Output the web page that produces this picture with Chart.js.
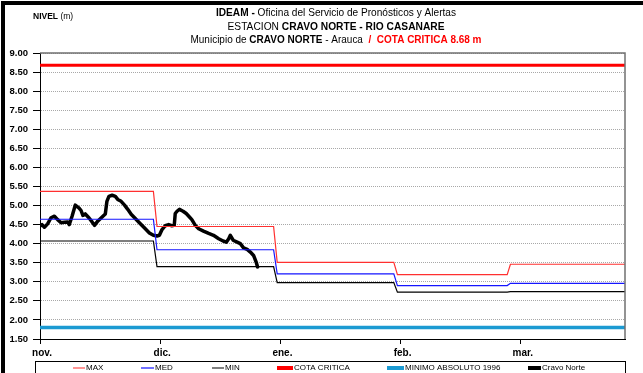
<!DOCTYPE html>
<html>
<head>
<meta charset="utf-8">
<title>Nivel Cravo Norte</title>
<script src="https://cdn.jsdelivr.net/npm/chart.js@4/dist/chart.umd.min.js"></script>
<style>
  html, body { margin: 0; padding: 0; background: #fff; }
  canvas { display: block; }
</style>
</head>
<body>
<canvas id="nivelChart" width="643" height="373"></canvas>
<script>
// Month ticks on a day axis (day 0 = start of nov.)
const monthTicks = [0, 30, 60, 90, 120];
const monthLabels = ['nov.', 'dic.', 'ene.', 'feb.', 'mar.'];

// Monthly reference levels (step lines)
const stepDays = [0, 28.3, 29.2, 58.3, 59.2, 88.3, 89.2, 116.6, 117.4, 146];
const maxLevels = [5.37, 5.37, 4.45, 4.45, 3.51, 3.51, 3.19, 3.19, 3.46, 3.46];
const medLevels = [4.64, 4.64, 3.84, 3.84, 3.21, 3.21, 2.90, 2.90, 2.96, 2.96];
const minLevels = [4.07, 4.07, 3.40, 3.40, 2.98, 2.98, 2.73, 2.73, 2.74, 2.74];

const cotaCritica = 8.68;
const minimoAbsoluto = 1.80;

// Observed levels, Cravo Norte
const cravoDays = [0, 0.5, 1.1, 1.9, 2.75, 3.6, 4.4, 5.25, 6.1, 6.9, 7.3, 8, 8.8, 9.7, 10.25, 10.7, 11.3, 12.2, 13,
  13.6, 14.4, 15.7, 16.3, 16.7, 17.2, 18, 18.8, 19.4, 20.25, 21.1, 21.9, 22.75, 23.6, 24.8, 26.1, 27.3, 28.3,
  29.2, 29.8, 30.4, 31.25, 32.1, 32.9, 33.5, 33.75, 34.2, 34.8, 35.7, 36.5, 37.3, 37.9, 38.75, 39.6, 40.8,
  42.1, 43.3, 44.6, 45.7, 46.5, 47.1, 47.5, 48.2, 49.2, 50, 50.8, 51.7, 52.5, 53.3, 54, 54.3];
const cravoLevels = [4.46, 4.50, 4.43, 4.52, 4.68, 4.72, 4.63, 4.55, 4.56, 4.57, 4.50, 4.72, 5.01, 4.94, 4.87, 4.74, 4.78, 4.68, 4.57,
  4.48, 4.59, 4.72, 4.78, 5.11, 5.24, 5.27, 5.24, 5.16, 5.11, 5.01, 4.90, 4.77, 4.68, 4.55, 4.41, 4.28, 4.22,
  4.20, 4.22, 4.36, 4.47, 4.50, 4.47, 4.48, 4.79, 4.85, 4.90, 4.85, 4.79, 4.70, 4.63, 4.48, 4.39, 4.33,
  4.27, 4.22, 4.13, 4.07, 4.04, 4.13, 4.22, 4.09, 4.04, 4.00, 3.89, 3.85, 3.78, 3.69, 3.50, 3.39];

const toPoints = (xs, ys) => xs.map((x, i) => ({ x, y: ys[i] }));
const flatLine = (v) => [{ x: 0, y: v }, { x: 146, y: v }];

const legendItems = [
  { text: 'MAX', color: '#ff7070', width: 1.5, x: 73, len: 12 },
  { text: 'MED', color: '#4040ff', width: 1.5, x: 141, len: 13 },
  { text: 'MIN', color: '#555555', width: 1.5, x: 212, len: 12 },
  { text: 'COTA CRITICA', color: '#ff0000', width: 4, x: 277, len: 16 },
  { text: 'MINIMO ABSOLUTO 1996', color: '#1b9ad2', width: 4, x: 387, len: 17 },
  { text: 'Cravo Norte', color: '#000000', width: 4, x: 528, len: 13 }
];

const headerLines = [
  { y: 13, width: 240, runs: [['IDEAM - ', true, '#000'], ['Oficina del Servicio de Pronósticos y Alertas', false, '#000']] },
  { y: 27, width: 217, runs: [['ESTACION ', false, '#000'], ['CRAVO NORTE - RIO CASANARE', true, '#000']] },
  { y: 40, width: 291, runs: [['Municipio de ', false, '#000'], ['CRAVO NORTE', true, '#000'], [' - Arauca  ', false, '#000'],
    ['/  COTA CRITICA 8.68 m', true, '#ff0000']] }
];

const FONT = '"Liberation Sans", Arial, sans-serif';

// frame, header text, plot border and legend box
const decorPlugin = {
  id: 'decor',
  beforeDraw(chart) {
    const ctx = chart.ctx;
    ctx.save();
    ctx.fillStyle = '#fff';
    ctx.fillRect(0, 0, chart.width, chart.height);
    ctx.fillStyle = '#000';
    ctx.fillRect(1, 1, chart.width, 4);
    ctx.fillRect(1, 1, 4, chart.height);

    ctx.textBaseline = 'middle';
    // axis unit
    ctx.font = 'bold 8.5px ' + FONT;
    ctx.textAlign = 'left';
    ctx.fillText('NIVEL', 33, 17);
    const nw = ctx.measureText('NIVEL ').width;
    ctx.font = '8.5px ' + FONT;
    ctx.fillText('(m)', 33 + nw, 17);

    headerLines.forEach(line => {
      let total = 0;
      line.runs.forEach(r => {
        ctx.font = (r[1] ? 'bold ' : '') + '10.5px ' + FONT;
        total += ctx.measureText(r[0]).width;
      });
      const s = line.width / total;
      ctx.save();
      ctx.translate(336, line.y);
      ctx.scale(s, 1);
      let x = -total / 2;
      line.runs.forEach(r => {
        ctx.font = (r[1] ? 'bold ' : '') + '10.5px ' + FONT;
        ctx.fillStyle = r[2];
        ctx.fillText(r[0], x, 0);
        x += ctx.measureText(r[0]).width;
      });
      ctx.restore();
    });
    ctx.restore();
  },
  afterDraw(chart) {
    const ctx = chart.ctx;
    const a = chart.chartArea;
    ctx.save();
    ctx.strokeStyle = '#707070';
    ctx.lineWidth = 1.5;
    ctx.beginPath();
    ctx.moveTo(a.left, a.top);
    ctx.lineTo(a.right, a.top);
    ctx.lineTo(a.right, a.bottom);
    ctx.stroke();

    // legend
    ctx.strokeStyle = '#000';
    ctx.lineWidth = 1;
    ctx.strokeRect(35.5, 361.5, 590, 20);
    ctx.font = '8px ' + FONT;
    ctx.textBaseline = 'middle';
    ctx.textAlign = 'left';
    legendItems.forEach(it => {
      ctx.strokeStyle = it.color;
      ctx.lineWidth = it.width;
      ctx.beginPath();
      ctx.moveTo(it.x, 368);
      ctx.lineTo(it.x + it.len, 368);
      ctx.stroke();
      ctx.fillStyle = '#000';
      ctx.fillText(it.text, it.x + it.len + 1, 368);
    });
    ctx.restore();
  }
};

new Chart(document.getElementById('nivelChart'), {
  type: 'line',
  data: {
    datasets: [
      { label: 'COTA CRITICA', data: flatLine(cotaCritica), borderColor: '#ff0000', borderWidth: 3 },
      { label: 'MINIMO ABSOLUTO 1996', data: flatLine(minimoAbsoluto), borderColor: '#1b9ad2', borderWidth: 3.5 },
      { label: 'MAX', data: toPoints(stepDays, maxLevels), borderColor: '#ff3030', borderWidth: 1.2 },
      { label: 'MED', data: toPoints(stepDays, medLevels), borderColor: '#1515ff', borderWidth: 1.2 },
      { label: 'MIN', data: toPoints(stepDays, minLevels), borderColor: '#000000', borderWidth: 1.2 },
      { label: 'Cravo Norte', data: toPoints(cravoDays, cravoLevels), borderColor: '#000000', borderWidth: 3.5,
        borderJoinStyle: 'round', borderCapStyle: 'round' }
    ]
  },
  options: {
    responsive: false,
    animation: false,
    events: [],
    layout: { padding: { top: 53, right: 18, bottom: 0, left: 0 } },
    elements: { point: { radius: 0 }, line: { tension: 0 } },
    plugins: { legend: { display: false }, tooltip: { enabled: false }, title: { display: false } },
    scales: {
      x: {
        type: 'linear',
        min: 0,
        max: 146,
        afterBuildTicks: (scale) => { scale.ticks = monthTicks.map(v => ({ value: v })); },
        afterFit: (scale) => { scale.height = 34; },
        ticks: {
          callback: (value, index) => monthLabels[index],
          color: '#000',
          font: { family: FONT, size: 10, weight: 'bold' },
          padding: 3,
          labelOffset: 2,
          maxRotation: 0
        },
        grid: { drawOnChartArea: false, color: '#000', tickLength: 5 },
        border: { color: '#000', width: 1 }
      },
      y: {
        min: 1.5,
        max: 9,
        afterBuildTicks: (scale) => {
          const t = [];
          for (let v = 1.5; v <= 9.001; v += 0.5) t.push({ value: Math.round(v * 100) / 100 });
          scale.ticks = t;
        },
        afterFit: (scale) => { scale.width = 40; },
        ticks: {
          callback: (value) => value.toFixed(2),
          color: '#000',
          font: { family: FONT, size: 9.5, weight: 'bold' },
          padding: 5
        },
        grid: { color: '#a8a8a8', tickColor: '#000', tickLength: 7, tickBorderDash: [] },
        border: { color: '#000', width: 1, dash: [1, 1] }
      }
    }
  },
  plugins: [decorPlugin]
});
</script>
</body>
</html>
